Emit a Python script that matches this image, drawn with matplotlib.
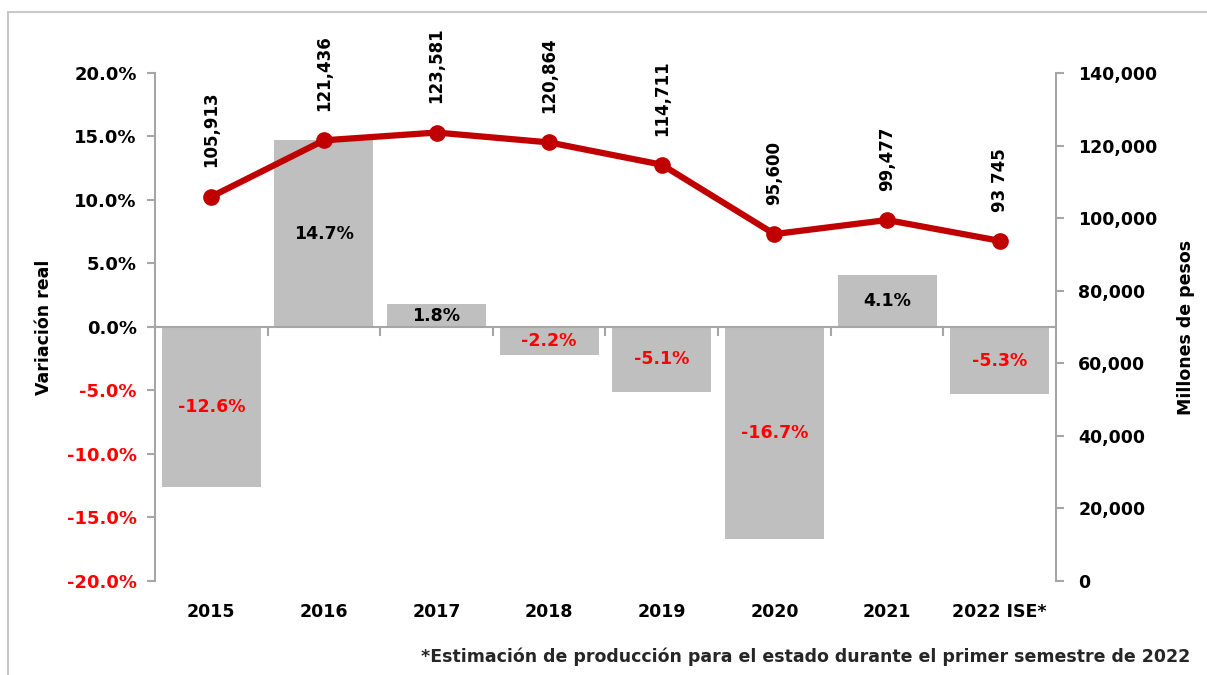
import matplotlib.pyplot as plt
from matplotlib.patches import Rectangle

years = ['2015', '2016', '2017', '2018', '2019', '2020', '2021', '2022 ISE*']
variacion = [-12.6, 14.7, 1.8, -2.2, -5.1, -16.7, 4.1, -5.3]
produccion = [105913, 121436, 123581, 120864, 114711, 95600, 99477, 93745]
prod_labels = ['105,913', '121,436', '123,581', '120,864', '114,711', '95,600', '99,477', '93 745']

plt.rcParams['font.family'] = ['DejaVu Sans']
plt.rcParams['font.weight'] = 'bold'

gray = '#BFBFBF'
red_line = '#C00000'
red_txt = '#FF0000'
fs = 12.5

fig = plt.figure(figsize=(12.07, 6.75), dpi=100)
ax = fig.add_axes([0.1284, 0.1393, 0.7465, 0.7526])

# frame around the chart
fig.patches.append(Rectangle((8 / 1207, -0.1), 1.2, 1.1 - 12 / 675, transform=fig.transFigure,
                             fill=False, edgecolor='#C8C8C8', linewidth=1.5))

x = range(len(years))
ax.bar(x, variacion, width=0.88, color=gray, zorder=2)
ax.set_xlim(-0.5, len(years) - 0.5)
ax.set_ylim(-20, 20)
ax.set_yticks([-20, -15, -10, -5, 0, 5, 10, 15, 20])
ax.set_yticklabels([f'{v:.1f}%' for v in ax.get_yticks()], fontsize=13, fontweight='bold')
for lab, v in zip(ax.get_yticklabels(), ax.get_yticks()):
    lab.set_color(red_txt if v < 0 else 'black')
ax.set_ylabel('Variación real', fontsize=fs, fontweight='bold', labelpad=10)

for s in ['top', 'right', 'bottom']:
    ax.spines[s].set_visible(False)
ax.spines['left'].set_color('#A6A6A6')
ax.spines['left'].set_linewidth(1.5)
ax.tick_params(axis='y', color='#A6A6A6', length=6, width=1.5, pad=7)
ax.axhline(0, color='#A6A6A6', linewidth=1.5, zorder=3)
for b in range(1, len(years)):
    ax.plot([b - 0.5, b - 0.5], [0, -0.6], color='#A6A6A6', linewidth=1.5, zorder=3, clip_on=False)
ax.set_xticks(list(x))
ax.set_xticklabels(years, fontsize=fs, fontweight='bold')
ax.tick_params(axis='x', length=0, pad=16)

for i, v in enumerate(variacion):
    ax.text(i, v / 2, f'{v:.1f}%', ha='center', va='center', fontsize=fs, fontweight='bold',
            color=red_txt if v < 0 else 'black', zorder=4)

ax2 = ax.twinx()
ax2.plot(x, produccion, color=red_line, linewidth=4.5, marker='o', markersize=11, zorder=5)
ax2.set_ylim(0, 140000)
ax2.set_yticks(range(0, 140001, 20000))
ax2.set_yticklabels([f'{int(v):,}' for v in ax2.get_yticks()], fontsize=fs, fontweight='bold')
for s in ['top', 'left', 'bottom']:
    ax2.spines[s].set_visible(False)
ax2.spines['right'].set_color('#A6A6A6')
ax2.spines['right'].set_linewidth(1.5)
ax2.tick_params(axis='y', color='#A6A6A6', length=6, width=1.5, pad=10)
ax2.set_ylabel('Millones de pesos', fontsize=fs, fontweight='bold', labelpad=14)

for i, (v, t) in enumerate(zip(produccion, prod_labels)):
    ax2.annotate(t, (i, v), xytext=(0, 21), textcoords='offset points', rotation=90,
                 ha='center', va='bottom', fontsize=12, fontweight='bold')

fig.text(1190 / 1207, 1 - 657 / 675, '*Estimación de producción para el estado durante el primer semestre de 2022',
         ha='right', va='center', fontsize=12.5, fontweight='bold', color='#262626')

fig.savefig('out.png', dpi=100)
